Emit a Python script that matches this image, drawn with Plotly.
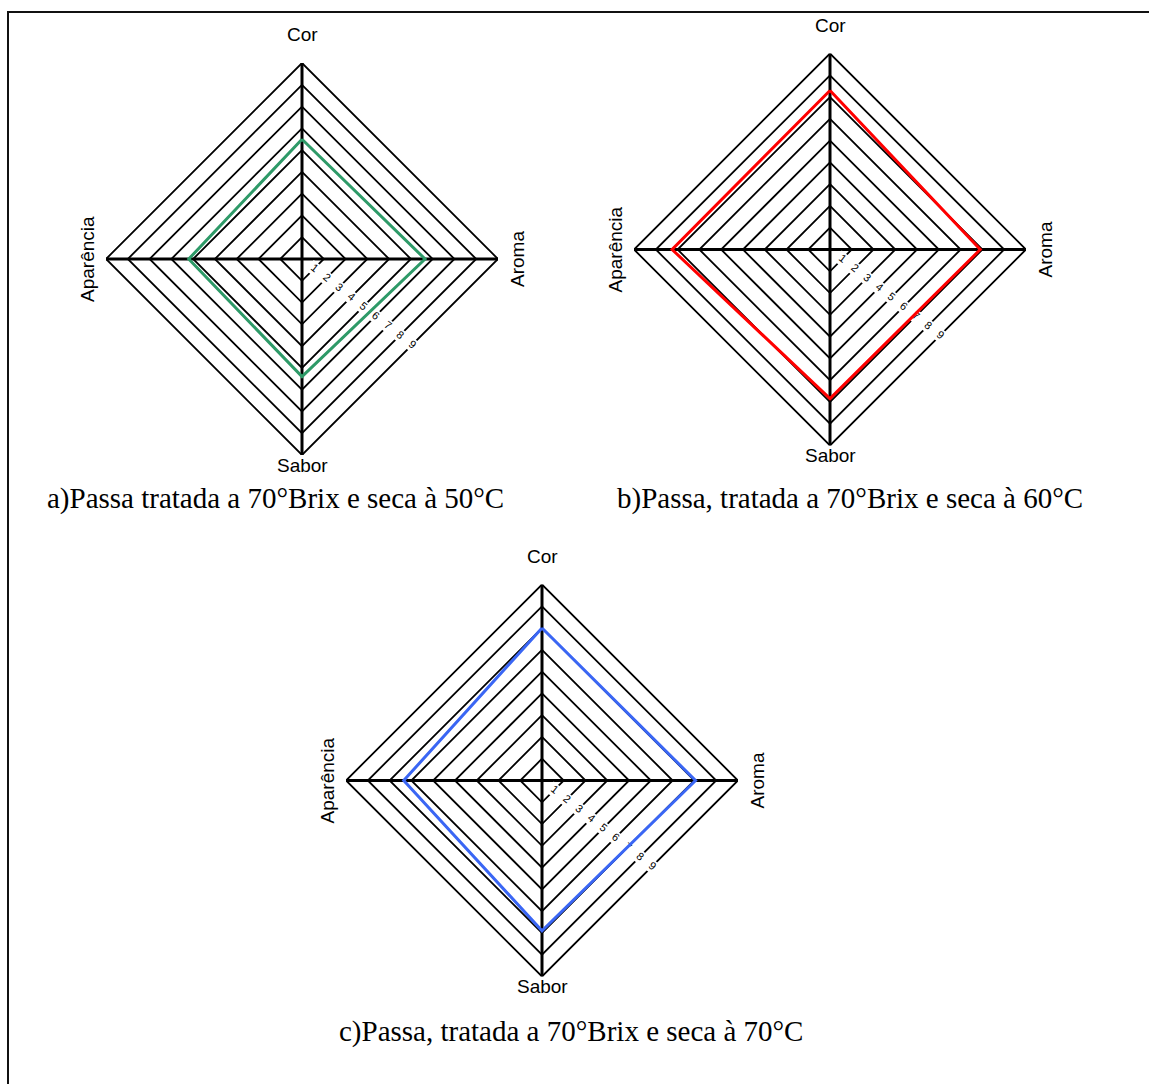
import math
import plotly.graph_objects as go

# Sensory attributes (clockwise from the top) and the 1-9 hedonic scale
ATTRIBUTES = ["Cor", "Aroma", "Sabor", "Aparência"]
SCALE_TICKS = [1, 2, 3, 4, 5, 6, 7, 8, 9]

# Mean scores per attribute, same order as ATTRIBUTES
passa_50C = [5.5, 5.65, 5.4, 5.2]
passa_60C = [7.3, 6.9, 6.85, 7.25]
passa_70C = [7.0, 7.05, 6.9, 6.35]

CAPTIONS = [
    "a)Passa tratada a 70°Brix e seca à 50°C",
    "b)Passa, tratada a 70°Brix e seca à 60°C",
    "c)Passa, tratada a 70°Brix e seca à 70°C",
]
LINE_COLORS = ["#2e9a68", "#ff0000", "#3a66f4"]

# ---- page geometry (pixels) ----
W, H = 1149, 1084
R_PX = 196                      # radius of the outer ring
CENTERS = [(302, 259), (830, 249.5), (542, 780.5)]
CAPTION_POS = [(45, 498, "left"), (615, 498, "left"), (805, 1031, "right")]
LABEL_DEG = 38                  # direction of the scale labels, below horizontal
LABEL_SHIFT = 8.5               # tick labels sit this far off their axis line
RING_THETA = [0, 90, 180, 270, 0]

cos_l, sin_l = math.cos(math.radians(LABEL_DEG)), math.sin(math.radians(LABEL_DEG))
# radius at which each diamond ring crosses the label direction
label_r = [k / (cos_l + sin_l) for k in SCALE_TICKS]


def px_dom(cx, cy, dx=0.0, dy=0.0):
    return dict(x=[(cx - R_PX + dx) / W, (cx + R_PX + dx) / W],
                y=[1 - (cy + R_PX + dy) / H, 1 - (cy - R_PX + dy) / H])


fig = go.Figure()
layout = {}
annotations = []

series = [passa_50C, passa_60C, passa_70C]
for i, (vals, color, (cx, cy)) in enumerate(zip(series, LINE_COLORS, CENTERS)):
    ids = [3 * i + 1, 3 * i + 2, 3 * i + 3]
    names = ["polar" if n == 1 else f"polar{n}" for n in ids]
    grid_id, lab_id, dat_id = names

    # grid: thick spokes, thin diamond rings, white band for the scale labels
    layout[grid_id] = dict(
        domain=px_dom(cx, cy), bgcolor="rgba(0,0,0,0)",
        angularaxis=dict(type="linear", thetaunit="degrees", direction="clockwise",
                         rotation=90, tickvals=[0, 90, 180, 270], showticklabels=False,
                         ticks="", showgrid=True, gridcolor="black", gridwidth=3,
                         showline=False),
        radialaxis=dict(range=[0, 9], showgrid=False, showline=False,
                        showticklabels=False, ticks=""),
    )
    for k in SCALE_TICKS:
        fig.add_trace(go.Scatterpolar(r=[k] * 5, theta=RING_THETA, mode="lines",
                                      line=dict(color="black", width=1.8),
                                      subplot=grid_id, hoverinfo="skip", showlegend=False))
    fig.add_trace(go.Scatterpolar(r=[0.45, label_r[-1] + 0.45], theta=[90 + LABEL_DEG] * 2,
                                  mode="lines", line=dict(color="white", width=13),
                                  subplot=grid_id, hoverinfo="skip", showlegend=False))

    # scale labels, rotated along their axis
    sx = sin_l * LABEL_SHIFT
    sy = -cos_l * LABEL_SHIFT
    layout[lab_id] = dict(
        domain=px_dom(cx, cy, sx, sy), bgcolor="rgba(0,0,0,0)",
        angularaxis=dict(visible=False),
        radialaxis=dict(range=[0, 9], angle=-LABEL_DEG, side="clockwise", tickangle=0,
                        tickvals=label_r, ticktext=[str(k) for k in SCALE_TICKS],
                        ticks="", showline=False, showgrid=False,
                        tickfont=dict(family="Liberation Sans, Arial", size=11, color="black")),
    )
    fig.add_trace(go.Scatterpolar(r=[0], theta=[0], mode="markers",
                                  marker=dict(color="rgba(0,0,0,0)", size=1),
                                  subplot=lab_id, hoverinfo="skip", showlegend=False))

    # the scores
    layout[dat_id] = dict(
        domain=px_dom(cx, cy), bgcolor="rgba(0,0,0,0)",
        angularaxis=dict(type="category", categoryarray=ATTRIBUTES, direction="clockwise",
                         rotation=90, visible=False),
        radialaxis=dict(range=[0, 9], visible=False),
    )
    fig.add_trace(go.Scatterpolar(r=vals + vals[:1], theta=ATTRIBUTES + ATTRIBUTES[:1],
                                  mode="lines", line=dict(color=color, width=3),
                                  subplot=dat_id, showlegend=False))

    # attribute names around the diamond
    label_spots = {
        "Cor": (cx, cy - R_PX - 28, 0),
        "Aroma": (cx + R_PX + 19, cy, -90),
        "Sabor": (cx, cy + R_PX + 10, 0),
        "Aparência": (cx - R_PX - 19, cy, -90),
    }
    for name in ATTRIBUTES:
        x, y, ang = label_spots[name]
        annotations.append(dict(x=x / W, y=1 - y / H, xref="paper", yref="paper",
                                text=name, showarrow=False, textangle=ang,
                                xanchor="center", yanchor="middle",
                                font=dict(family="Liberation Sans, Arial", size=19, color="black")))

    capx, capy, anchor = CAPTION_POS[i]
    annotations.append(dict(x=capx / W, y=1 - capy / H, xref="paper", yref="paper",
                            text=CAPTIONS[i], showarrow=False, xanchor=anchor, yanchor="middle",
                            font=dict(family="Liberation Serif, Times New Roman", size=29,
                                      color="black")))

fig.update_layout(
    width=W, height=H, margin=dict(l=0, r=0, t=0, b=0),
    paper_bgcolor="white", plot_bgcolor="white",
    annotations=annotations,
    shapes=[dict(type="rect", xref="paper", yref="paper",
                 x0=8 / W, x1=1.02, y0=-0.02, y1=1 - 12 / H,
                 line=dict(color="#111111", width=2))],
    **layout,
)

fig.write_html("out.html")
